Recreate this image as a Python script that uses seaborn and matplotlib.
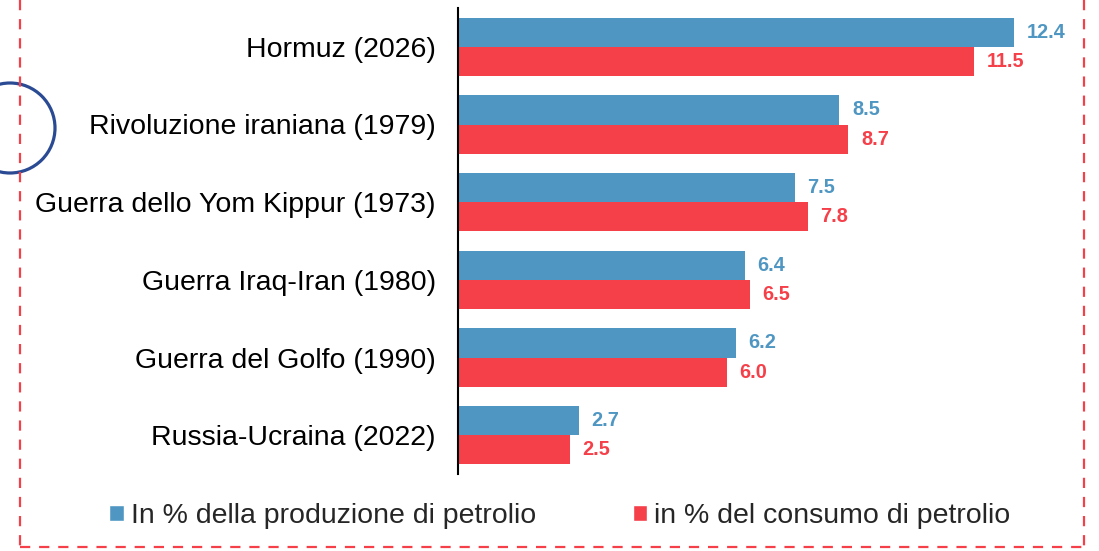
import pandas as pd
import seaborn as sns
import matplotlib.pyplot as plt
from matplotlib.patches import Patch, Ellipse
from matplotlib.lines import Line2D

# data
eventi = ["Hormuz (2026)", "Rivoluzione iraniana (1979)", "Guerra dello Yom Kippur (1973)",
          "Guerra Iraq-Iran (1980)", "Guerra del Golfo (1990)", "Russia-Ucraina (2022)"]
produzione = [12.4, 8.5, 7.5, 6.4, 6.2, 2.7]
consumo = [11.5, 8.7, 7.8, 6.5, 6.0, 2.5]
serie = ["In % della produzione di petrolio", "in % del consumo di petrolio"]

BLUE = "#4F97C2"
RED = "#F5404A"
NAVY = "#2A4A94"

df = pd.concat([
    pd.DataFrame({"evento": eventi, "valore": produzione, "serie": serie[0]}),
    pd.DataFrame({"evento": eventi, "valore": consumo, "serie": serie[1]}),
])

sns.set_style("white")
plt.rcParams["font.family"] = ["Liberation Sans", "DejaVu Sans"]

fig = plt.figure(figsize=(10.99, 5.51), dpi=100)
ax = fig.add_axes([458 / 1099, 1 - 474 / 551, 626 / 1099, 466 / 551])

sns.barplot(data=df, y="evento", x="valore", hue="serie", order=eventi, hue_order=serie,
            palette=[BLUE, RED], saturation=1, orient="h", width=0.75, linewidth=0,
            ax=ax, legend=False)

for cont, col in zip(ax.containers, [BLUE, RED]):
    ax.bar_label(cont, fmt="%.1f", padding=9, color=col, fontsize=14.3, fontweight="bold")

ax.set_xlim(0, 13.95)
ax.set_ylim(5.5, -0.5)
ax.set_xlabel("")
ax.set_ylabel("")
ax.set_xticks([])
ax.tick_params(axis="y", length=0, pad=16, labelsize=20.5, labelcolor="black")
for s in ["top", "right", "bottom"]:
    ax.spines[s].set_visible(False)
ax.spines["left"].set_color("black")
ax.spines["left"].set_linewidth(1.5)

handles = [Patch(facecolor=BLUE, label=serie[0]), Patch(facecolor=RED, label=serie[1])]
fig.legend(handles=handles, loc="center", bbox_to_anchor=(560 / 1099, 1 - 516 / 551),
           ncol=2, frameon=False, fontsize=20.5, handlelength=0.5, handleheight=0.5,
           handletextpad=0.25, columnspacing=3.4)

# dashed frame around the chart
W, H = 1099, 551
dash = dict(color=RED, lw=1.6, ls=(0, (4.6, 4)), transform=fig.transFigure)
fig.add_artist(Line2D([20 / W, 20 / W], [1, 1 - 547 / H], **dash))
fig.add_artist(Line2D([20 / W, 1084 / W], [1 - 547 / H, 1 - 547 / H], **dash))
fig.add_artist(Line2D([1084 / W, 1084 / W], [1, 1 - 547 / H], **dash))

# partial circle on the left edge
fig.add_artist(Ellipse((10 / W, 1 - 128 / H), 90 / W, 90 / H, transform=fig.transFigure,
                       fill=False, edgecolor=NAVY, lw=2.3))

fig.savefig("out.png", dpi=100)
